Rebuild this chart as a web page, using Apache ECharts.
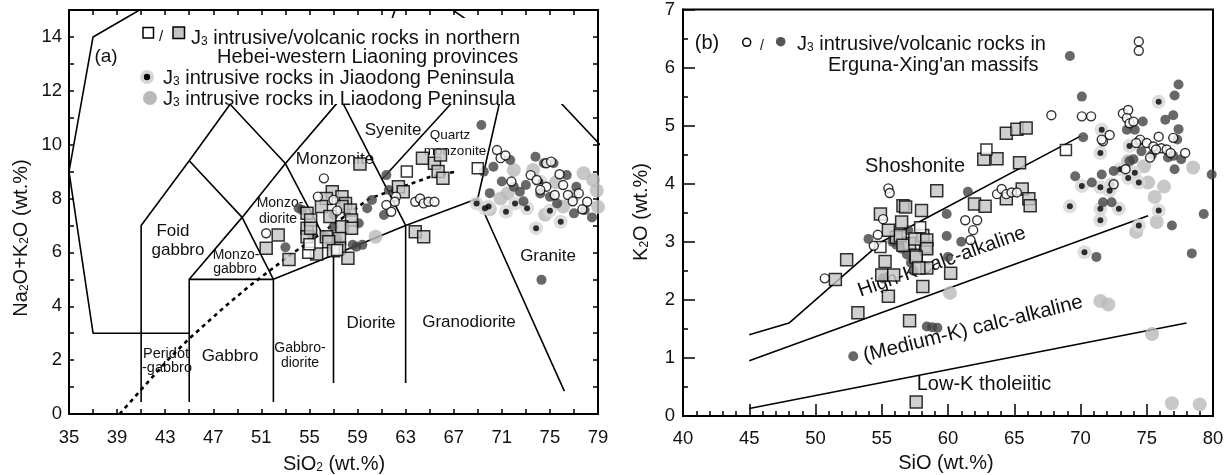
<!DOCTYPE html>
<html>
<head>
<meta charset="utf-8">
<script src="https://cdn.jsdelivr.net/npm/echarts@6/dist/echarts.min.js"></script>
<style>
  html, body { margin: 0; padding: 0; background: #fff; }
  #chart { width: 1231px; height: 475px; }
</style>
</head>
<body>
<div id="chart"></div>
<script>
// ---------- Panel (a): total alkali vs SiO2 (wt.%) ----------
const aGraySquares = [
  [51.4,6.15],[52.4,6.65],[53.3,5.74],[54.8,7.45],[54.8,6.9],[54.8,6.58],[56.9,8.25],[56.4,8.0],
  [57.7,8.07],[58.0,7.82],[56.0,7.7],[57.7,7.7],[58.4,7.57],[55.1,7.2],[56.7,7.33],[58.5,7.2],
  [57.7,6.95],[58.5,6.9],[55.1,6.9],[56.4,6.58],[57.5,6.52],[57.5,6.15],[58.2,5.78],[56.6,6.4],
  [57.0,6.06],[55.6,5.94],[59.2,9.28],[62.4,8.44],[62.8,8.25],[63.8,6.77],[64.5,6.58],[64.4,9.5],
  [65.4,9.31],[65.9,9.62],[65.7,9.0],[66.1,8.75]
];
const aOpenSquares = [[54.9,5.99],[57.3,6.09],[55.0,6.3],[63.1,9.0],[69.0,9.12]];
const aOpenCircles = [
  [51.4,6.71],[56.2,8.75],[55.7,8.07],[57.0,7.95],[62.2,8.07],[62.1,7.88],[61.4,7.76],[61.8,7.51],
  [63.8,7.88],[64.2,8.0],[64.5,7.82],[64.9,7.88],[65.4,7.88],[70.6,9.8],[70.9,9.5],[71.3,9.6],
  [71.8,8.63],[73.4,8.87],[73.9,8.69],[74.7,9.31],[75.1,9.37],[74.7,8.44],[75.4,8.13],[76.1,8.5],
  [76.5,8.13],[77.4,8.19],[78.1,7.88],[74.2,8.32],[76.9,7.9],[77.7,7.6],[75.8,8.9],[57.3,7.55]
];
const aDarkDots = [
  [53.0,6.19],[54.1,7.64],[61.4,8.87],[61.6,8.32],[60.2,7.95],[59.8,7.64],[61.2,7.39],[59.1,7.08],
  [57.0,6.95],[57.3,6.52],[57.0,7.39],[58.9,6.21],[59.4,6.28],[56.3,6.58],[55.2,6.65],[54.4,7.57],
  [69.3,10.73],[74.3,4.98],[57.5,6.34],[58.6,6.28],[73.8,9.55],[74.5,9.31],[75.3,9.31],[71.0,8.63],
  [72.0,8.44],[72.5,8.25],[74.2,8.19],[76.4,8.87],[77.2,8.44],[77.0,7.45],[77.9,7.57],[70.3,9.18],
  [71.7,9.43],[75.0,8.07],[75.6,7.82],[73.0,8.5],[78.5,7.3],[72.8,7.9],[70.0,8.2],[69.5,9.0]
];
const aJiaodong = [
  [68.9,7.82],[69.6,7.64],[71.35,7.51],[72.1,7.82],[73.1,7.64],[75.0,7.55],[75.9,7.14],[73.85,6.9],
  [74.2,8.63],[69.9,7.7]
];
const aLiaodong = [
  [60.5,6.58],[72.0,9.06],[76.1,7.7],[77.8,8.94],[78.6,8.69],[70.9,8.0],[73.6,9.06],[79.0,7.69],
  [75.5,8.6],[77.0,8.1],[71.5,8.2],[78.9,8.3],[74.6,7.4],[70.0,7.6]
];

// field boundaries of the plutonic TAS classification
const tasOuter = [[52.5,18],[37,14],[35,9],[37,3],[45,3]];
const tasFoidLine = [[41,0.45],[41,7],[45,9.4],[48.4,11.5],[52.5,14]];
const tasSeriesLine = [[45,0.45],[45,5],[49.4,7.3],[53,9.3],[57.6,11.7],[61,13.5],[63,16.2]];
const tasGabbroTop = [[45,5],[52,5]];
const tasMonzoLine = [[45,9.4],[49.4,7.3],[52,5]];
const tasSubalkaline = [[52,0.45],[52,5],[57,5.9],[63,7],[69,8]];
const tasDioriteLine = [[57,1.15],[57,5.9],[53,9.3],[48.4,11.5]];
const tasGranodioriteLine = [[63,1.15],[63,7],[57.6,11.7],[52.5,14]];
const tasSyeniteLine = [[61,8.7],[70,13.1]];
const tasGraniteLine = [[76.2,0.85],[69,8],[71.8,13.5],[85.9,6.8]];
const tasUpperLine = [[63,16.2],[71.8,13.5]];
const alkalineDivide = [[39.2,0],[40,0.4],[43.2,2],[45,2.8],[48,4],[50,4.75],[53.7,6],[55,6.4],[60,8],[65,8.8],[67.2,9.0]];

// ---------- Panel (b): K2O vs SiO2 (wt.%) ----------
const bGraySquares = [
  [51.5,2.35],[52.35,2.69],[53.2,1.78],[54.9,3.48],[55.25,2.66],[55.0,2.43],[55.9,2.43],[55.5,2.06],
  [56.6,3.62],[56.5,3.34],[56.1,3.08],[57.1,2.97],[57.6,2.77],[58.3,2.91],[58.1,3.11],[56.4,3.11],
  [56.6,2.94],[57.5,3.05],[58.4,3.03],[58.4,2.88],[57.6,2.74],[58.1,2.23],[60.2,2.46],[57.1,1.64],
  [57.6,0.24],[59.15,3.88],[62.0,3.65],[62.8,3.61],[64.4,3.74],[65.6,3.91],[66.1,3.74],[66.2,3.62],
  [56.8,3.6],[58.0,3.54],[62.7,4.42],[63.7,4.43],[65.4,4.36],[64.4,4.87],[65.2,4.94],[65.9,4.96],
  [58.4,2.55],[55.5,3.2],[57.8,2.55]
];
const bOpenSquares = [[62.9,4.59],[68.9,4.58],[54.9,2.91],[57.9,3.25]];
const bOpenCircles = [
  [50.7,2.37],[55.5,3.92],[55.6,3.84],[55.1,3.39],[54.7,3.12],[54.4,2.93],[61.7,3.03],[61.9,3.2],
  [61.3,3.37],[62.2,3.37],[63.7,3.82],[64.05,3.91],[64.4,3.82],[64.8,3.85],[65.2,3.85],[67.8,5.18],
  [70.1,5.16],[70.8,5.16],[74.4,6.45],[74.4,6.29],[73.2,5.21],[73.6,5.27],[73.5,5.13],[73.7,5.04],
  [74.0,5.07],[71.7,4.73],[72.2,4.84],[74.5,4.76],[75.0,4.70],[75.5,4.64],[75.9,4.81],[76.1,4.61],
  [76.5,4.59],[76.8,4.53],[77.0,4.79],[77.9,4.53],[75.25,4.45],[75.7,4.59],[74.2,4.70],[73.4,4.25],
  [72.5,3.99],[71.6,4.76]
];
const bDarkDots = [
  [54.0,3.05],[55.1,2.37],[52.85,1.03],[58.4,1.54],[58.8,1.53],[59.2,1.52],[55.8,3.0],[56.1,2.95],
  [56.5,2.88],[56.9,2.78],[57.2,2.64],[57.4,2.5],[59.9,3.1],[61.0,3.0],[60.0,2.74],[59.9,3.48],
  [61.5,3.86],[57.0,3.2],[69.2,6.2],[70.1,5.5],[70.2,4.8],[77.4,5.71],[77.1,5.52],[77.0,5.18],
  [76.4,5.1],[77.4,4.94],[77.3,4.76],[77.1,4.25],[79.9,4.16],[79.3,3.48],[76.9,3.28],[74.7,5.07],
  [74.1,4.93],[73.5,4.93],[74.6,4.56],[74.4,4.73],[75.4,4.5],[76.6,4.45],[77.0,4.48],[77.6,4.42],
  [73.7,4.39],[74.0,4.42],[69.6,4.13],[70.85,4.02],[71.7,3.68],[72.35,3.68],[71.6,4.16],[72.5,4.22],
  [71.2,2.74],[78.4,2.8]
];
const bJiaodong = [
  [75.9,5.41],[71.6,4.93],[71.5,4.53],[73.7,4.65],[73.0,4.25],[74.1,4.19],[74.4,4.02],[73.6,4.1],
  [72.35,3.99],[71.5,3.94],[72.2,3.88],[70.1,3.96],[69.2,3.61],[71.5,3.57],[72.9,3.57],[71.5,3.37],
  [74.4,3.28],[75.9,3.54],[70.3,2.82]
];
const bLightGray = [
  [78.5,4.28],[73.6,4.39],[75.6,3.77],[75.75,3.34],[75.1,4.02],[74.2,3.17],[76.3,3.95],[74.8,4.3],
  [60.15,2.12],[71.5,1.98],[72.1,1.92],[75.4,1.41],[76.9,0.22],[79.0,0.2]
];

// series boundaries of the K2O–SiO2 diagram
const shoshoniteLine = [[45,1.4],[48,1.6],[55,3.0],[70,4.82]];
const highKLine = [[45,0.95],[75.1,3.45]];
const lowKLine = [[45,0.13],[78,1.6]];

// ---------- styling ----------
const FONT = '"Liberation Sans", Arial, Helvetica, sans-serif';
const INK = '#111';
const GRAY_SQ = '#c4c4c4';
const DARK = '#424242';
const LIGHT = '#b9b9b9';
const HALO = '#d6d6d6';

function boundary(data, idx, dashed) {
  return {
    type: 'line', xAxisIndex: idx, yAxisIndex: idx, data: data,
    symbol: 'none', showSymbol: false, silent: true, animation: false, z: 1,
    lineStyle: { color: '#000', width: dashed ? 2.6 : 1.6, type: dashed ? [4, 4] : 'solid' }
  };
}
function scatter(data, idx, symbol, size, itemStyle) {
  return {
    type: 'scatter', xAxisIndex: idx, yAxisIndex: idx, data: data,
    symbol: symbol, symbolSize: size, itemStyle: itemStyle, silent: true, animation: false, z: 2
  };
}
function panelSeries(idx, sets) {
  return [
    scatter(sets.light, idx, 'circle', 14, { color: LIGHT }),
    scatter(sets.jiaodong, idx, 'circle', 14, { color: HALO }),
    scatter(sets.jiaodong, idx, 'circle', 6, { color: '#000' }),
    scatter(sets.dark, idx, 'circle', 10, { color: DARK }),
    scatter(sets.graySq, idx, 'rect', 12, { color: GRAY_SQ, borderColor: '#000', borderWidth: 1.5 }),
    scatter(sets.openSq, idx, 'rect', 11, { color: '#fff', borderColor: '#000', borderWidth: 1.5 }),
    scatter(sets.openCircle, idx, 'circle', 9, { color: '#fff', borderColor: '#000', borderWidth: 1.4 })
  ];
}

function rich(size) {
  return {
    n: { fontSize: size, fontFamily: FONT, fill: INK, lineHeight: size + 2, verticalAlign: 'bottom' },
    s: { fontSize: Math.round(size * 0.62), fontFamily: FONT, fill: INK, lineHeight: 8, verticalAlign: 'bottom' }
  };
}
// opt.under puts a label beneath the plotted samples (field names inside the plots)
function text(x, y, str, size, opt) {
  opt = opt || {};
  const align = opt.align || 'center';
  return {
    type: 'text', x: x, y: y, rotation: opt.rotation || 0, z: opt.under ? 1 : 101, silent: true,
    style: {
      text: str, fontSize: size, fontFamily: FONT, fill: INK,
      align: align, verticalAlign: 'middle', textAlign: align, textVerticalAlign: 'middle',
      rich: opt.rich ? rich(size) : undefined
    }
  };
}
const U = { under: true };

function valueAxis(base) {
  return Object.assign({
    type: 'value', splitLine: { show: false },
    axisLine: { show: true, onZero: false, lineStyle: { color: '#000', width: 2 } },
    axisTick: { show: true, inside: true, length: 5, lineStyle: { color: '#000', width: 1.5 } },
    axisLabel: { color: INK, fontSize: 18.5, fontFamily: FONT }
  }, base);
}

const option = {
  animation: false,
  backgroundColor: '#fff',
  textStyle: { fontFamily: FONT },
  grid: [
    { left: 69, top: 10, width: 529, height: 404, show: true, borderColor: '#000', borderWidth: 2, backgroundColor: 'transparent' },
    { left: 683, top: 5, width: 530, height: 411, show: true, borderColor: '#000', borderWidth: 2, backgroundColor: 'transparent' }
  ],
  xAxis: [
    valueAxis({ gridIndex: 0, min: 35, max: 79, interval: 2, position: 'bottom',
      axisLabel: { color: INK, fontSize: 18.5, fontFamily: FONT, margin: 14,
        formatter: v => ((v - 35) % 4 === 0 ? String(v) : '') } }),
    valueAxis({ gridIndex: 0, min: 35, max: 79, interval: 2, position: 'top', axisLabel: { show: false } }),
    valueAxis({ gridIndex: 1, min: 40, max: 80, interval: 5, position: 'bottom',
      axisTick: { show: true, inside: true, length: 12, lineStyle: { color: '#000', width: 1.5 } },
      minorTick: { show: true, splitNumber: 5, length: 5, lineStyle: { color: '#000', width: 1.5 } },
      axisLabel: { color: INK, fontSize: 18.5, fontFamily: FONT, margin: 13 } })
  ],
  yAxis: [
    valueAxis({ gridIndex: 0, min: 0, max: 15, interval: 1, position: 'left',
      axisLabel: { color: INK, fontSize: 18.5, fontFamily: FONT, margin: 7, showMaxLabel: false,
        formatter: v => (v % 2 === 0 ? String(v) : '') } }),
    valueAxis({ gridIndex: 0, min: 0, max: 15, interval: 1, position: 'right', axisLabel: { show: false } }),
    valueAxis({ gridIndex: 1, min: 0, max: 7, interval: 1, position: 'left',
      axisTick: { show: true, inside: true, length: 12, lineStyle: { color: '#000', width: 1.5 } },
      minorTick: { show: true, splitNumber: 2, length: 5, lineStyle: { color: '#000', width: 1.5 } },
      axisLabel: { color: INK, fontSize: 18.5, fontFamily: FONT, margin: 8 } })
  ],
  series: [
    boundary(tasOuter, 0), boundary(tasFoidLine, 0), boundary(tasSeriesLine, 0),
    boundary(tasGabbroTop, 0), boundary(tasMonzoLine, 0), boundary(tasSubalkaline, 0),
    boundary(tasDioriteLine, 0), boundary(tasGranodioriteLine, 0), boundary(tasSyeniteLine, 0),
    boundary(tasGraniteLine, 0), boundary(tasUpperLine, 0), boundary(alkalineDivide, 0, true),
    boundary(shoshoniteLine, 2), boundary(highKLine, 2), boundary(lowKLine, 2)
  ].concat(
    panelSeries(0, { light: aLiaodong, jiaodong: aJiaodong, dark: aDarkDots, graySq: aGraySquares,
      openSq: aOpenSquares, openCircle: aOpenCircles }),
    panelSeries(2, { light: bLightGray, jiaodong: bJiaodong, dark: bDarkDots, graySq: bGraySquares,
      openSq: bOpenSquares, openCircle: bOpenCircles })
  ),
  graphic: { elements: [
    // panel (a) legend block
    { type: 'rect', z: 100, silent: true, shape: { x: 138, y: 18, width: 452, height: 86 }, style: { fill: '#fff' } },
    { type: 'rect', z: 101, silent: true, shape: { x: 143, y: 27.5, width: 10.5, height: 10.5 }, style: { fill: '#fff', stroke: '#000', lineWidth: 1.5 } },
    text(161, 37, '/', 15),
    { type: 'rect', z: 101, silent: true, shape: { x: 173, y: 27, width: 11.5, height: 11.5 }, style: { fill: GRAY_SQ, stroke: '#000', lineWidth: 1.5 } },
    text(191, 37, '{n|J}{s|3}{n| intrusive/volcanic rocks in northern}', 20, { align: 'left', rich: true }),
    text(217, 57, 'Hebei-western Liaoning provinces', 20, { align: 'left' }),
    { type: 'circle', z: 101, silent: true, shape: { cx: 147, cy: 77, r: 7 }, style: { fill: HALO } },
    { type: 'circle', z: 102, silent: true, shape: { cx: 147, cy: 77, r: 3.2 }, style: { fill: '#000' } },
    text(163, 77, '{n|J}{s|3}{n| intrusive rocks in Jiaodong Peninsula}', 20, { align: 'left', rich: true }),
    { type: 'circle', z: 101, silent: true, shape: { cx: 150, cy: 98, r: 7 }, style: { fill: LIGHT } },
    text(163, 98, '{n|J}{s|3}{n| intrusive rocks in Liaodong Peninsula}', 20, { align: 'left', rich: true }),
    text(106, 57, '(a)', 19),

    // panel (a) field names
    text(173, 231, 'Foid', 17, U), text(178, 250, 'gabbro', 17, U),
    text(236, 255, 'Monzo-', 14, U), text(235, 269, 'gabbro', 14, U),
    text(280, 203, 'Monzo-', 14, U), text(278, 219, 'diorite', 14, U),
    text(335, 159, 'Monzonite', 17, U),
    text(393, 130, 'Syenite', 17, U),
    text(450, 135, 'Quartz', 13.5, U), text(455, 151, 'monzonite', 13.5, U),
    text(548, 256, 'Granite', 17, U),
    text(371, 323, 'Diorite', 17, U),
    text(469, 322, 'Granodiorite', 17, U),
    text(300, 348, 'Gabbro-', 14, U), text(300, 363, 'diorite', 14, U),
    text(230, 356, 'Gabbro', 17, U),
    text(166, 354, 'Peridot', 14.5, U), text(167, 368, '-gabbro', 14.5, U),

    // panel (a) axis names
    text(334, 463, '{n|SiO}{s|2}{n| (wt.%)}', 20, { rich: true }),
    text(20, 238, '{n|Na}{s|2}{n|O+K}{s|2}{n|O (wt.%)}', 20, { rich: true, rotation: Math.PI / 2 }),

    // panel (b) legend and labels
    text(707, 43, '(b)', 20),
    { type: 'circle', z: 101, silent: true, shape: { cx: 746.7, cy: 42.3, r: 4 }, style: { fill: '#fff', stroke: '#000', lineWidth: 1.5 } },
    text(762, 46, '/', 14),
    { type: 'circle', z: 101, silent: true, shape: { cx: 780.7, cy: 41.7, r: 4.8 }, style: { fill: '#555' } },
    text(797, 43, '{n|J}{s|3}{n| intrusive/volcanic rocks in}', 20, { align: 'left', rich: true }),
    text(828, 65, "Erguna-Xing'an massifs", 20, { align: 'left' }),
    text(915, 166, 'Shoshonite', 20, U),
    text(942, 262, 'High-K calc-alkaline', 20, { under: true, rotation: 19.6 * Math.PI / 180 }),
    text(973, 329, '(Medium-K) calc-alkaline', 20.5, { under: true, rotation: 14 * Math.PI / 180 }),
    text(984, 384, 'Low-K tholeiitic', 20, U),

    // panel (b) axis names
    text(946, 463, 'SiO (wt.%)', 20),
    text(640, 212, '{n|K}{s|2}{n|O (wt.%)}', 20, { rich: true, rotation: Math.PI / 2 })
  ] }
};

const chart = echarts.init(document.getElementById('chart'), null, { renderer: 'canvas' });
chart.setOption(option);
</script>
</body>
</html>
